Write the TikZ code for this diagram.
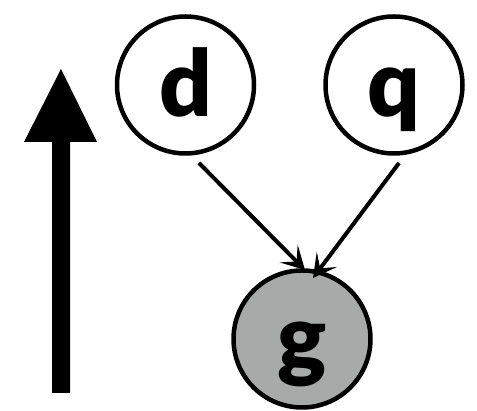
\documentclass[tikz,border=0pt]{standalone}
\usepackage{fontspec}
\newfontfamily\heavy{Lato Black}
\usetikzlibrary{arrows.meta,calc}
\definecolor{obsgray}{RGB}{167,170,169}
\begin{document}
\begin{tikzpicture}[x=1pt,y=1pt,
  var/.style={circle,draw=black,line width=4.5pt,minimum size=137pt,inner sep=0pt,
    font=\heavy\fontsize{92}{92}\selectfont,text height=63pt,text depth=0pt},
  edge/.style={line width=4pt,-{Stealth[length=23pt,width=25pt,inset=11pt]}}]
\useasboundingbox (0,0) rectangle (477,411);
% variables
\node[var,fill=white] (d) at (185.5,326) {d};
\node[var,fill=white] (q) at (394,326) {q};
\node[var,fill=obsgray] (g) at (302,72) {g};
% dependencies
\draw[edge] ($(d.center)+(13.5,-78)$) -- ($(g.center)+(3,69)$);
\draw[edge] ($(q.center)+(5,-78)$) -- ($(g.center)+(11,61)$);
% direction arrow
\fill (52,18) -- (70,18) -- (70,269) -- (97,269) -- (61,342) -- (24,269) -- (52,269) -- cycle;
\end{tikzpicture}
\end{document}
